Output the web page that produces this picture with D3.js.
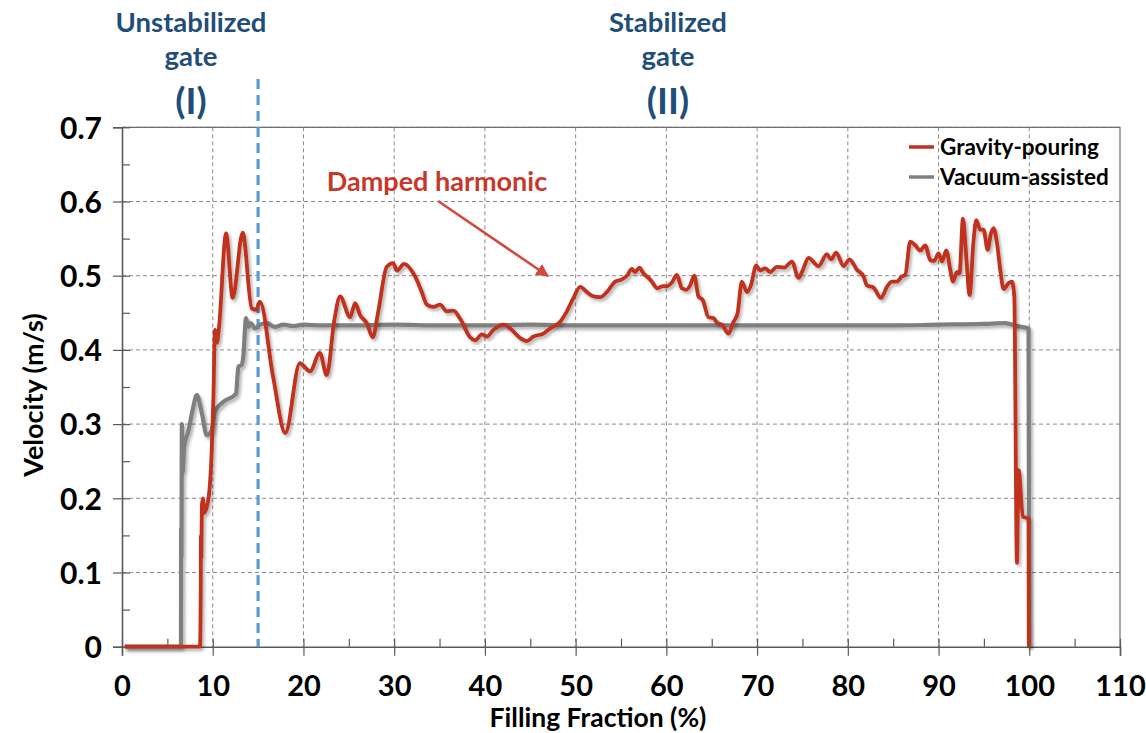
<!DOCTYPE html>
<html><head><meta charset="utf-8">
<script src="https://cdn.jsdelivr.net/npm/d3@7"></script>
<style>
html,body{margin:0;padding:0;background:#fff;}
svg{display:block;font-family:Lato,"Open Sans",sans-serif;font-weight:700;}
</style></head>
<body><svg id="chart" width="1146" height="733"></svg>
<script>
// ---- data ----
const xTicks = [0,10,20,30,40,50,60,70,80,90,100,110];
const yTicks = [0,0.1,0.2,0.3,0.4,0.5,0.6,0.7];
const yTickLabels = ["0","0.1","0.2","0.3","0.4","0.5","0.6","0.7"];
const seriesNames = ["Gravity-pouring","Vacuum-assisted"];
const gravityX = [0.3,8.6,8.68,8.7,8.75,8.8,8.93,9.04,9.51,9.89,10.07,10.25,10.47,10.69,11.47,12.2,13.3,14.3,14.77,15.2,16.65,18.0,19.6,20.73,21.8,22.57,23.4,24.04,25.14,25.69,26.24,26.98,27.64,28.22,29.18,29.88,30.32,31.09,32.3,33.04,33.6,34.32,35.06,35.8,36.53,37.27,38.37,38.92,39.66,40.21,40.94,42.04,42.78,43.88,44.62,45.35,46.45,47.19,48.29,49.03,49.76,50.5,51.24,51.79,52.7,53.44,54.36,55.09,55.65,56.2,56.56,57.03,57.48,58.03,58.4,59.02,59.61,60.12,60.61,61.16,61.71,62.18,62.62,63.07,63.54,64.02,64.64,65.19,65.63,66.12,66.85,67.33,67.84,68.32,68.88,69.32,69.9,70.34,70.89,71.44,72.18,72.99,73.84,74.56,75.05,75.67,76.77,77.7,78.14,78.72,79.53,80.19,81.0,81.73,82.1,82.83,83.65,84.31,84.86,85.41,85.96,86.33,86.88,87.43,87.98,88.53,89.09,89.53,90.0,90.37,90.85,91.29,91.59,92.03,92.31,92.69,93.05,93.42,93.86,94.16,94.6,94.96,95.41,95.78,96.06,96.44,96.8,97.17,97.72,98.09,98.35,98.64,98.82,99.3,99.92,99.95];
const gravityY = [0,0,0.08,0.15,0.12,0.19,0.2,0.18,0.198,0.265,0.333,0.427,0.41,0.43,0.557,0.47,0.558,0.456,0.454,0.465,0.364,0.288,0.382,0.371,0.396,0.366,0.44,0.472,0.444,0.463,0.447,0.436,0.417,0.45,0.512,0.517,0.507,0.516,0.499,0.478,0.461,0.458,0.461,0.452,0.453,0.442,0.417,0.413,0.421,0.418,0.427,0.434,0.429,0.416,0.412,0.418,0.422,0.429,0.438,0.452,0.47,0.485,0.478,0.473,0.471,0.478,0.492,0.495,0.5,0.509,0.505,0.511,0.503,0.497,0.492,0.483,0.486,0.486,0.491,0.501,0.483,0.481,0.487,0.5,0.472,0.467,0.444,0.443,0.436,0.434,0.422,0.436,0.449,0.492,0.478,0.487,0.514,0.507,0.51,0.505,0.512,0.511,0.519,0.497,0.508,0.524,0.513,0.529,0.522,0.531,0.513,0.522,0.508,0.499,0.487,0.484,0.47,0.485,0.492,0.492,0.499,0.501,0.546,0.541,0.534,0.541,0.521,0.52,0.53,0.519,0.534,0.508,0.492,0.505,0.503,0.577,0.526,0.474,0.548,0.575,0.562,0.562,0.535,0.557,0.564,0.544,0.508,0.482,0.49,0.492,0.472,0.113,0.238,0.175,0.173,0];
const vacuumX = [0.3,6.5,6.52,6.55,6.6,6.7,6.85,7.3,7.8,8.24,8.8,9.34,9.89,10.25,11.17,12.57,12.7,12.82,13.2,13.37,13.67,13.92,14.19,14.66,15.21,15.95,16.87,17.78,18.89,19.99,22,25,30,35,40,45,50,55,60,65,70,75,80,85,90,95,97.35,98.64,99.92,100.0];
const vacuumY = [0,0,0.16,0.12,0.3,0.235,0.27,0.29,0.32,0.339,0.315,0.285,0.292,0.317,0.33,0.341,0.36,0.377,0.38,0.391,0.443,0.431,0.436,0.429,0.434,0.436,0.431,0.434,0.432,0.434,0.433,0.433,0.434,0.433,0.433,0.434,0.433,0.433,0.433,0.433,0.433,0.433,0.433,0.433,0.434,0.435,0.436,0.432,0.429,0];
const gateBoundary = 15;

// ---- layout ----
const svg = d3.select("#chart");
const L = 122, R = 1120, T = 127.3, B = 646.7;
const x = d3.scaleLinear().domain([0,110]).range([L,R]);
const y = d3.scaleLinear().domain([0,0.7]).range([B,T]);

const defs = svg.append("defs");
const f = defs.append("filter").attr("id","shadow").attr("x","-5%").attr("y","-5%").attr("width","110%").attr("height","115%");
f.append("feDropShadow").attr("dx",2).attr("dy",2.5).attr("stdDeviation",1.6).attr("flood-color","#000").attr("flood-opacity",0.3);
const m = defs.append("marker").attr("id","arrow").attr("viewBox","0 0 10 10").attr("refX",9).attr("refY",5)
  .attr("markerWidth",5).attr("markerHeight",5).attr("orient","auto").attr("markerUnits","strokeWidth");
m.append("path").attr("d","M0,0L10,5L0,10z").attr("fill","#D24B3A");

// grid
const grid = svg.append("g");
grid.selectAll(".gx").data(xTicks.filter(d=>d>0 && d<110)).join("line")
  .attr("x1",d=>x(d)).attr("x2",d=>x(d)).attr("y1",T).attr("y2",B)
  .attr("stroke","#8a8a8a").attr("stroke-width",1).attr("stroke-dasharray","4,3");
grid.selectAll(".gy").data(yTicks.filter(d=>d>0)).join("line")
  .attr("x1",L).attr("x2",R).attr("y1",d=>y(d)).attr("y2",d=>y(d))
  .attr("stroke","#8a8a8a").attr("stroke-width",1).attr("stroke-dasharray","4,3");
// border top/right
svg.append("path").attr("d",`M${L},${T}H${R}V${B}`).attr("fill","none").attr("stroke","#6e6e6e").attr("stroke-width",1.2);

// axes
const xAxis = d3.axisBottom(x).tickValues(xTicks).tickSize(9).tickFormat(d3.format("d"));
const gx = svg.append("g").attr("transform",`translate(0,${B})`).call(xAxis);
gx.select(".domain").attr("stroke","#5a5a5a").attr("stroke-width",1.6);
gx.selectAll(".tick line").attr("stroke","#5a5a5a").attr("stroke-width",1.2).attr("y1",-8);
gx.selectAll(".tick text").attr("font-size",29).attr("font-weight",700).attr("fill","#000")
  .attr("font-family","Lato").attr("dy",0).attr("y",49);
const gxm = svg.append("g").attr("transform",`translate(0,${B})`)
  .call(d3.axisTop(x).tickValues(d3.range(5,110,10)).tickSize(8).tickFormat(""));
gxm.select(".domain").remove();
gxm.selectAll(".tick line").attr("stroke","#5a5a5a").attr("stroke-width",1.2);

const yAxis = d3.axisLeft(y).tickValues(yTicks).tickSize(9).tickFormat((d,i)=>yTickLabels[i]);
const gy = svg.append("g").attr("transform",`translate(${L},0)`).call(yAxis);
gy.select(".domain").attr("stroke","#5a5a5a").attr("stroke-width",1.6);
gy.selectAll(".tick line").attr("stroke","#5a5a5a").attr("stroke-width",1.2).attr("x2",-9).attr("x1",8);
gy.selectAll(".tick text").attr("font-size",30).attr("font-weight",700).attr("fill","#000")
  .attr("font-family","Lato").attr("x",-20).attr("dy","0.36em");
const gym = svg.append("g").attr("transform",`translate(${L},0)`)
  .call(d3.axisRight(y).tickValues(d3.range(0.05,0.7,0.1)).tickSize(8).tickFormat(""));
gym.select(".domain").remove();
gym.selectAll(".tick line").attr("stroke","#5a5a5a").attr("stroke-width",1.2);

// axis titles
svg.append("text").attr("x",598).attr("y",727).attr("text-anchor","middle").attr("font-size",26.5).text("Filling Fraction (%)");
svg.append("text").attr("transform","translate(43,395) rotate(-90)").attr("text-anchor","middle").attr("font-size",27).text("Velocity (m/s)");

// gate boundary
svg.append("line").attr("x1",x(gateBoundary)).attr("x2",x(gateBoundary)).attr("y1",79).attr("y2",B)
  .attr("stroke","#5B9BD5").attr("stroke-width",3.2).attr("stroke-dasharray","10,6");

// lines
const line = d3.line().x(d=>x(d[0])).y(d=>y(d[1])).curve(d3.curveMonotoneX);
const gravity = gravityX.map((v,i)=>[v,gravityY[i]]);
const vacuum = vacuumX.map((v,i)=>[v,vacuumY[i]]);
const colors = ["#C0301E","#7F7F7F"];
svg.append("path").datum(vacuum).attr("d",line).attr("fill","none").attr("stroke",colors[1])
  .attr("stroke-width",4.2).attr("stroke-linejoin","round").attr("filter","url(#shadow)");
svg.append("path").datum(gravity).attr("d",line).attr("fill","none").attr("stroke",colors[0])
  .attr("stroke-width",3.8).attr("stroke-linejoin","round").attr("filter","url(#shadow)");

// gate annotations
const blue = "#1F4E79";
const ann = svg.append("g").attr("fill",blue).attr("text-anchor","middle");
[["Unstabilized","gate","(I)",191],["Stabilized","gate","(II)",668]].forEach(a=>{
  ann.append("text").attr("x",a[3]).attr("y",32).attr("font-size",27.5).text(a[0]);
  ann.append("text").attr("x",a[3]).attr("y",66).attr("font-size",27.5).text(a[1]);
  ann.append("text").attr("x",a[3]).attr("y",114).attr("font-size",37).text(a[2]);
});

// damped harmonic
svg.append("text").attr("x",437).attr("y",191).attr("text-anchor","middle").attr("font-size",27)
  .attr("fill","#C6392A").text("Damped harmonic");
svg.append("line").attr("x1",438).attr("y1",201).attr("x2",548).attr("y2",276)
  .attr("stroke","#D24B3A").attr("stroke-width",2.6).attr("marker-end","url(#arrow)");

// legend
const lg = svg.append("g");
seriesNames.forEach((n,i)=>{
  const yy = 147 + i*30;
  lg.append("line").attr("x1",909).attr("x2",934).attr("y1",yy).attr("y2",yy).attr("stroke",colors[i]).attr("stroke-width",3.5);
  lg.append("text").attr("x",940).attr("y",yy).attr("dy","0.35em").attr("font-size",22.5).attr("fill","#000").text(n);
});
</script></body></html>
